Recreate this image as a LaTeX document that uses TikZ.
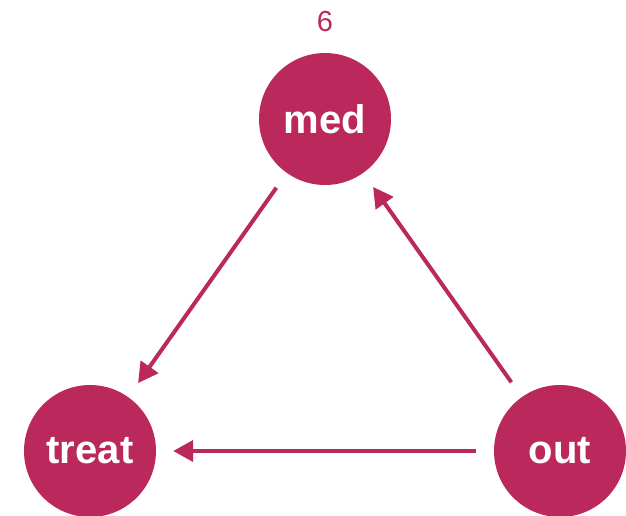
\documentclass[tikz,border=0pt]{standalone}
\usepackage{fontspec}
\setmainfont{Liberation Sans}
\usetikzlibrary{arrows.meta}
\definecolor{dagpink}{RGB}{187,40,92}
\tikzset{
  dagnode/.style={circle, fill=dagpink, draw=none, minimum size=132pt, inner sep=0pt,
    text=white, font=\fontsize{40}{42}\selectfont\bfseries},
  dagedge/.style={draw=dagpink, line width=4pt, shorten >=17pt, shorten <=18pt,
    -{Triangle[length=20pt,width=21pt]}},
  countlabel/.style={text=dagpink, font=\fontsize{29}{31}\selectfont}
}
\begin{document}
\begin{tikzpicture}[x=1pt,y=-1pt]
\useasboundingbox (0,0) rectangle (626,515);
\node[dagnode] (med) at (325,119) {med};
\node[dagnode] (treat) at (90,451) {treat};
\node[dagnode] (out) at (560,451) {out};
\node[countlabel] (cnt) at (325,22) {6};
\draw[dagedge] (med) -- (treat);
\draw[dagedge] (out) -- (med);
\draw[dagedge] (out) -- (treat);
\end{tikzpicture}
\end{document}
